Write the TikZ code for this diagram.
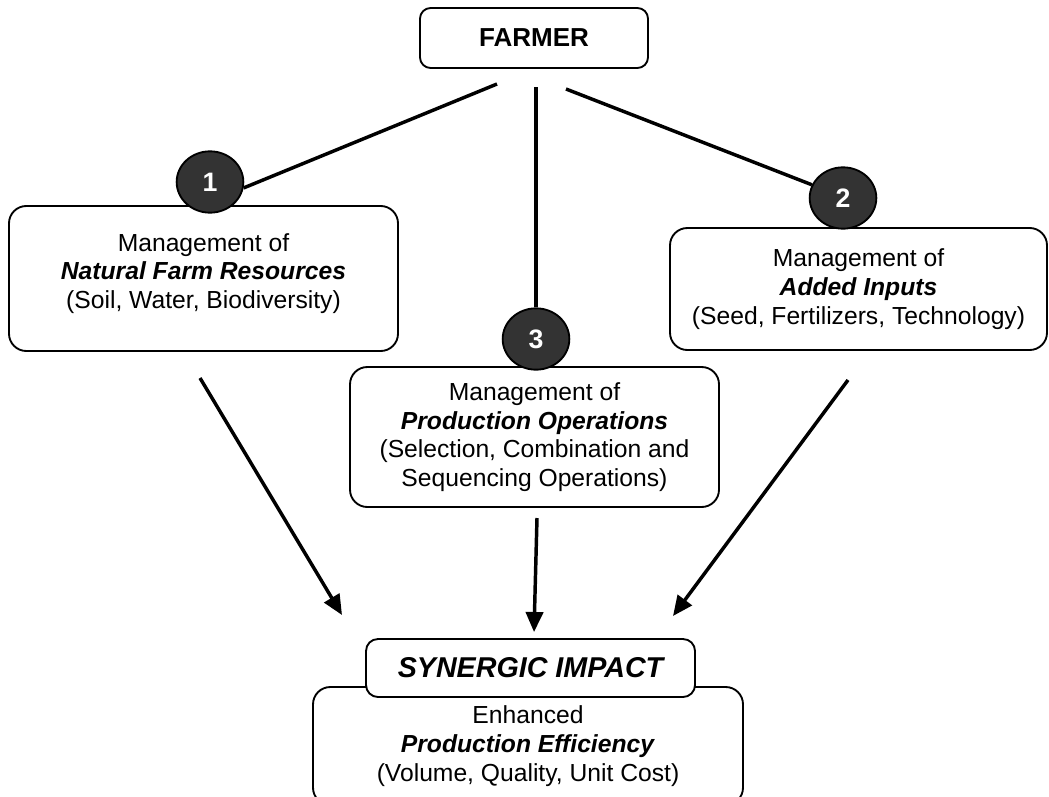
\documentclass[tikz,border=0pt]{standalone}
\usepackage{fontspec}
\setmainfont{Liberation Sans}
\usepackage{xcolor}
\usepackage{tikz}
\usetikzlibrary{shapes.geometric, arrows.meta, positioning, calc}

\definecolor{numgray}{HTML}{333333}

\begin{document}
\begin{tikzpicture}[
    x=0.75pt, y=-0.75pt,
    mgmt/.style={rectangle, draw, rounded corners=13pt, line width=1.4pt, fill=white, align=center, font=\fontsize{18.5}{21.5}\selectfont},
    num/.style={ellipse, draw, line width=1.4pt, fill=numgray, text=white, minimum width=50pt, minimum height=46pt, inner sep=0pt, font=\fontsize{20}{22}\selectfont\bfseries},
    link/.style={line width=2.6pt},
    arrow/.style={-{Triangle[length=15pt, width=13pt]}, line width=2.6pt}
]
    \clip (0,0) rectangle (1049,796);

    \node[mgmt, rounded corners=8pt, minimum width=171pt, minimum height=45pt, font=\fontsize{19.5}{22}\selectfont\bfseries] (farmer) at (534,38) {FARMER};

    \node[mgmt, minimum width=291.75pt, minimum height=108.75pt] (res) at (203.5,278.5) {Management of\\\textbf{\textit{Natural Farm Resources}}\\(Soil, Water, Biodiversity)\\[-10pt]};
    \node[mgmt, minimum width=282.75pt, minimum height=91.5pt] (inp) at (858.5,289) {Management of\\\textbf{\textit{Added Inputs}}\\(Seed, Fertilizers, Technology)};
    \node[mgmt, minimum width=276.75pt, minimum height=105pt] (ops) at (534.5,437) {Management of\\\textbf{\textit{Production Operations}}\\(Selection, Combination and\\Sequencing Operations)};

    \node[mgmt, minimum width=322.5pt, minimum height=88.5pt] (eff) at (528,746) {Enhanced\\\textbf{\textit{Production Efficiency}}\\(Volume, Quality, Unit Cost)};
    \node[mgmt, rounded corners=9pt, minimum width=246.75pt, minimum height=43.5pt, font=\fontsize{21.5}{24}\selectfont\bfseries\itshape] (impact) at (530.5,668) {SYNERGIC IMPACT};

    \node[num] (n1) at (210,182) {1};
    \node[num] (n2) at (843,198) {2};
    \node[num] (n3) at (536,339) {3};

    % lines from the farmer
    \coordinate (f1) at (497,84);
    \coordinate (f2) at (566,89);
    \coordinate (f3) at (536,87);
    \draw[link] (f1) -- (n1.-10);
    \draw[link] (f2) -- (n2.157);
    \draw[link] (f3) -- (n3);

    % arrows to the impact
    \coordinate (a1) at (200,378);
    \coordinate (b1) at (342,615);
    \coordinate (a2) at (537,518);
    \coordinate (b2) at (534,632);
    \coordinate (a3) at (848,380);
    \coordinate (b3) at (673,616);
    \draw[arrow] (a1) -- (b1);
    \draw[arrow] (a2) -- (b2);
    \draw[arrow] (a3) -- (b3);
\end{tikzpicture}
\end{document}
